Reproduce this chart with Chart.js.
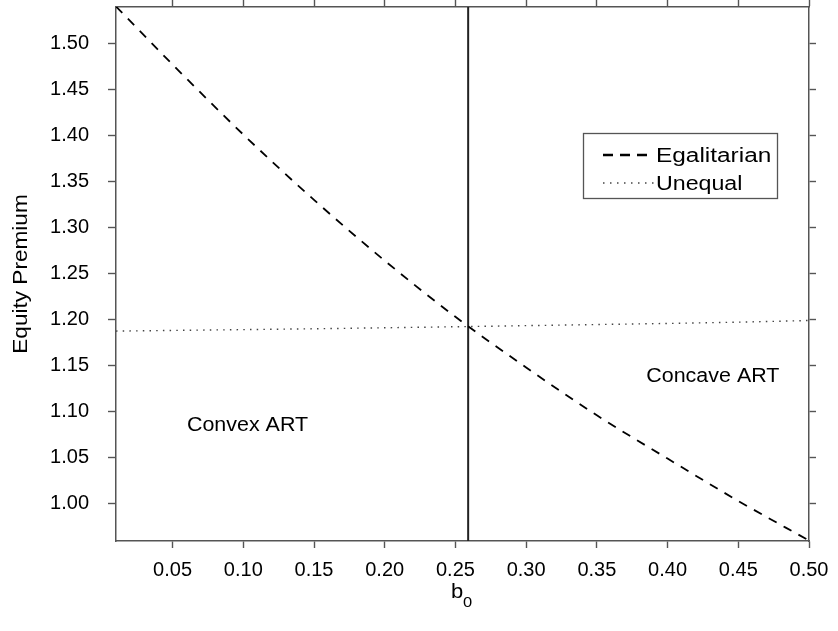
<!DOCTYPE html>
<html>
<head>
<meta charset="utf-8">
<script src="https://cdn.jsdelivr.net/npm/chart.js@4.4.1/dist/chart.umd.min.js"></script>
<style>
  html, body { margin: 0; padding: 0; background: #fff; }
  #wrap { width: 838px; height: 631px; }
</style>
</head>
<body>
<div id="wrap"><canvas id="premium"></canvas></div>
<script>
// values
const b0 = [0.01, 0.05, 0.10, 0.15, 0.20, 0.25, 0.30, 0.35, 0.40, 0.45, 0.50];
const egalitarian = [1.540, 1.477, 1.401, 1.330, 1.264, 1.203, 1.148, 1.096, 1.049, 1.003, 0.960];
const unequal = [1.1875, 1.1882, 1.1891, 1.1900, 1.1911, 1.1922, 1.1934, 1.1946, 1.1958, 1.1972, 1.1990];
const cutoff = 0.259;
const xTicks = [0.05, 0.10, 0.15, 0.20, 0.25, 0.30, 0.35, 0.40, 0.45, 0.50];
const yTicks = [1.00, 1.05, 1.10, 1.15, 1.20, 1.25, 1.30, 1.35, 1.40, 1.45, 1.50];

const FONT = "'Liberation Sans', Arial, Helvetica, sans-serif";
const frame = "#555";

function pts(xs, ys) {
  return xs.map((x, i) => ({x: x, y: ys[i]}));
}

// text slightly wider than the font, like the original device
function wideText(ctx, text, x, y, size, sx, align) {
  ctx.save();
  ctx.font = size + "px " + FONT;
  ctx.translate(x, y);
  ctx.scale(sx, 1);
  ctx.textAlign = align || "center";
  ctx.textBaseline = "middle";
  ctx.fillStyle = "#000";
  ctx.fillText(text, 0, 0);
  ctx.restore();
}

// fixed box sizes, no extra room for overflowing labels
function fixSize(w, h) {
  return (s) => {
    if (w !== null) s.width = w;
    if (h !== null) s.height = h;
    s.paddingTop = 0;
    s.paddingBottom = 0;
    s.paddingLeft = 0;
    s.paddingRight = 0;
  };
}

const extras = {
  id: "extras",
  afterDraw(chart) {
    const ctx = chart.ctx;
    const xs = chart.scales.x, ys = chart.scales.y;

    // region labels
    wideText(ctx, "Convex ART", xs.getPixelForValue(0.103), ys.getPixelForValue(1.085), 19.5, 1.1);
    wideText(ctx, "Concave ART", xs.getPixelForValue(0.432), ys.getPixelForValue(1.138), 19.5, 1.1);

    // axis titles
    ctx.save();
    ctx.translate(21, (chart.chartArea.top + chart.chartArea.bottom) / 2);
    ctx.rotate(-Math.PI / 2);
    wideText(ctx, "Equity Premium", 0, 0, 20, 1.13);
    ctx.restore();

    wideText(ctx, "b", 457, 592, 20, 1.1);
    wideText(ctx, "0", 463, 603, 15, 1.1, "left");

    // legend
    ctx.save();
    ctx.strokeStyle = frame;
    ctx.lineWidth = 1.3;
    ctx.strokeRect(583.5, 133.5, 194, 65);
    ctx.strokeStyle = "#000";
    ctx.lineWidth = 2.5;
    ctx.setLineDash([10, 7]);
    ctx.beginPath(); ctx.moveTo(603, 155); ctx.lineTo(654, 155); ctx.stroke();
    ctx.strokeStyle = "#444";
    ctx.lineWidth = 1.4;
    ctx.setLineDash([1.5, 5.5]);
    ctx.beginPath(); ctx.moveTo(603, 183); ctx.lineTo(654, 183); ctx.stroke();
    ctx.restore();
    wideText(ctx, "Egalitarian", 656, 156, 20, 1.22, "left");
    wideText(ctx, "Unequal", 656, 184, 20, 1.16, "left");
  }
};

function axisGrid() {
  return {
    drawOnChartArea: false,
    drawTicks: true,
    tickLength: 7,
    tickColor: frame,
    tickWidth: 1.4
  };
}

const chartData = {
  datasets: [
    {
      label: "Egalitarian",
      data: pts(b0, egalitarian),
      borderColor: "#000",
      borderWidth: 1.8,
      borderDash: [9, 8],
      pointRadius: 0,
      cubicInterpolationMode: "monotone"
    },
    {
      label: "Unequal",
      data: pts(b0, unequal),
      borderColor: "#444",
      borderWidth: 1.4,
      borderDash: [1.5, 5.2],
      pointRadius: 0,
      cubicInterpolationMode: "monotone"
    },
    {
      label: "cutoff",
      data: [{x: cutoff, y: 0.9595}, {x: cutoff, y: 1.5395}],
      borderColor: "#222",
      borderWidth: 2,
      pointRadius: 0
    }
  ]
};

new Chart(document.getElementById("premium"), {
  type: "line",
  data: chartData,
  plugins: [extras],
  options: {
    responsive: true,
    maintainAspectRatio: false,
    animation: false,
    events: [],
    layout: { padding: 0 },
    plugins: {
      legend: { display: false },
      tooltip: { enabled: false }
    },
    scales: {
      x: {
        type: "linear",
        position: "bottom",
        min: 0.01,
        max: 0.50,
        afterBuildTicks: (s) => { s.ticks = xTicks.map(v => ({value: v})); },
        afterFit: fixSize(null, 90),
        grid: axisGrid(),
        border: { color: frame, width: 1.5 },
        ticks: {
          color: "#000",
          padding: 10,
          maxRotation: 0,
          autoSkip: false,
          font: { family: FONT, size: 20 },
          callback: (v) => v.toFixed(2)
        }
      },
      x2: {
        type: "linear",
        position: "top",
        min: 0.01,
        max: 0.50,
        afterBuildTicks: (s) => { s.ticks = xTicks.map(v => ({value: v})); },
        afterFit: fixSize(null, 7),
        grid: axisGrid(),
        border: { color: frame, width: 1.5 },
        ticks: { display: false }
      },
      y: {
        type: "linear",
        position: "left",
        min: 0.9595,
        max: 1.5395,
        afterBuildTicks: (s) => { s.ticks = yTicks.map(v => ({value: v})); },
        afterFit: fixSize(116, null),
        grid: Object.assign(axisGrid(), { tickLength: 8 }),
        border: { color: frame, width: 1.5 },
        ticks: {
          color: "#000",
          padding: 19,
          autoSkip: false,
          font: { family: FONT, size: 20 },
          callback: (v) => v.toFixed(2)
        }
      },
      y2: {
        type: "linear",
        position: "right",
        min: 0.9595,
        max: 1.5395,
        afterBuildTicks: (s) => { s.ticks = yTicks.map(v => ({value: v})); },
        afterFit: fixSize(29, null),
        grid: axisGrid(),
        border: { color: frame, width: 1.5 },
        ticks: { display: false }
      }
    }
  }
});
</script>
</body>
</html>
